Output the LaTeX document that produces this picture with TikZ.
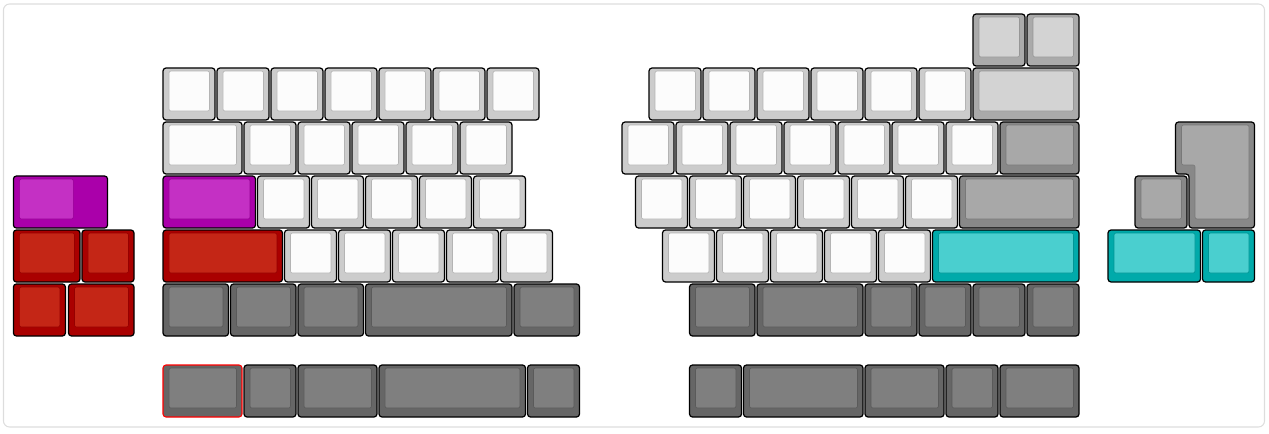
\documentclass[tikz,border=0pt]{standalone}
\usepackage{xcolor}
\usepackage{tikz}

\definecolor{whiteout}{HTML}{CCCCCC}
\definecolor{whitein}{HTML}{FCFCFC}
\definecolor{lightout}{HTML}{AAAAAA}
\definecolor{lightin}{HTML}{D3D3D3}
\definecolor{midout}{HTML}{888888}
\definecolor{midin}{HTML}{A8A8A8}
\definecolor{darkout}{HTML}{666666}
\definecolor{darkin}{HTML}{7F7F7F}
\definecolor{purpleout}{HTML}{AA00AA}
\definecolor{purplein}{HTML}{C430C4}
\definecolor{redout}{HTML}{AA0000}
\definecolor{redin}{HTML}{C42616}
\definecolor{cyanout}{HTML}{00AAAA}
\definecolor{cyanin}{HTML}{4ACFCF}
\definecolor{framegray}{HTML}{DDDDDD}

% gap between caps, in key units
\newcommand{\kgap}{0.037}
% \keycap[extra]{colour}{x}{row}{width}
\newcommand{\keycap}[5][]{%
  \draw[capedge, fill=#2out, #1] (#3,#4) rectangle ++(#5-\kgap,1-\kgap);
  \draw[capface, draw=#2out!88!black, fill=#2in] (#3+0.111,#4+0.056) rectangle ++(#5-\kgap-0.213,1-\kgap-0.222);
}

\begin{document}
\begin{tikzpicture}[
    x=1.08cm, y=-1.08cm,
    capedge/.style={draw=black, line width=0.7pt, rounded corners=0.06cm},
    capface/.style={line width=0.35pt, rounded corners=0.04cm},
    frame/.style={draw=framegray, line width=0.6pt, rounded corners=0.12cm},
  ]
  \useasboundingbox (-0.0185,-0.2593) rectangle (23.4815,7.7593);
  \draw[frame] (0.046,-0.185) rectangle (23.398,7.648);

  % Left cluster
  \draw[capedge, fill=purpleout] (0.23,3) rectangle ++(1.78-\kgap,1-\kgap);
  \draw[capface, draw=purpleout!88!black, fill=purplein] (0.23+0.111,3.056) rectangle ++(1.25-\kgap-0.213,1-\kgap-0.222);
  \keycap{red}{0.23}{4}{1.27}
  \keycap{red}{1.5}{4}{1}
  \keycap{red}{0.23}{5}{1}
  \keycap{red}{1.25}{5}{1.25}

  % Left half
  \foreach \x in {3,...,9} {\keycap{white}{\x}{1}{1}}
  \keycap{white}{3}{2}{1.5}
  \foreach \x in {4.5,5.5,6.5,7.5,8.5} {\keycap{white}{\x}{2}{1}}
  \keycap{purple}{3}{3}{1.75}
  \foreach \x in {4.75,5.75,6.75,7.75,8.75} {\keycap{white}{\x}{3}{1}}
  \keycap{red}{3}{4}{2.25}
  \foreach \x in {5.25,6.25,7.25,8.25,9.25} {\keycap{white}{\x}{4}{1}}
  \foreach \x/\w in {3/1.25,4.25/1.25,5.5/1.25,6.75/2.75,9.5/1.25} {\keycap{dark}{\x}{5}{\w}}
  \keycap[draw=red, line width=0.6pt]{dark}{3}{6.5}{1.5}
  \foreach \x/\w in {4.5/1,5.5/1.5,7/2.75,9.75/1} {\keycap{dark}{\x}{6.5}{\w}}

  % Right half
  \keycap{light}{18}{0}{1}
  \keycap{light}{19}{0}{1}
  \foreach \x in {12,...,17} {\keycap{white}{\x}{1}{1}}
  \keycap{light}{18}{1}{2}
  \foreach \x in {11.5,12.5,13.5,14.5,15.5,16.5,17.5} {\keycap{white}{\x}{2}{1}}
  \keycap{mid}{18.5}{2}{1.5}
  \foreach \x in {11.75,12.75,13.75,14.75,15.75,16.75} {\keycap{white}{\x}{3}{1}}
  \keycap{mid}{17.75}{3}{2.25}
  \foreach \x in {12.25,13.25,14.25,15.25,16.25} {\keycap{white}{\x}{4}{1}}
  \keycap{cyan}{17.25}{4}{2.75}
  \foreach \x/\w in {12.75/1.25,14/2,16/1,17/1,18/1,19/1} {\keycap{dark}{\x}{5}{\w}}
  \foreach \x/\w in {12.75/1,13.75/2.25,16/1.5,17.5/1,18.5/1.5} {\keycap{dark}{\x}{6.5}{\w}}

  % Far right cluster
  \draw[capedge, fill=midout] (21.75,2) -- (23.213,2) -- (23.213,3.963) -- (22,3.963) -- (22,2.963) -- (21.75,2.963) -- cycle;
  \draw[capface, draw=midout!88!black, fill=midin] (21.861,2.056) -- (23.111,2.056) -- (23.111,3.796) -- (22.111,3.796) -- (22.111,2.796) -- (21.861,2.796) -- cycle;
  \keycap{mid}{21}{3}{1}
  \keycap{cyan}{20.5}{4}{1.75}
  \keycap{cyan}{22.25}{4}{1}
\end{tikzpicture}
\end{document}
